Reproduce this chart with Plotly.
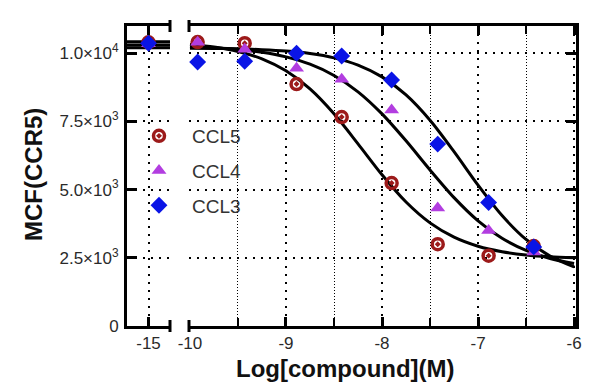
import plotly.graph_objects as go

# ---------------- data ----------------
series_names = ["CCL5", "CCL4", "CCL3"]
control_x = [-15]
control_ccl5 = [10400]
control_ccl4 = [10350]
control_ccl3 = [10370]

log_conc = [-9.92, -9.43, -8.89, -8.42, -7.90, -7.42, -6.89, -6.42]
ccl5_mcf = [10410, 10370, 8870, 7660, 5240, 3000, 2580, 2930]
ccl4_mcf = [10400, 10150, 9450, 9050, 7920, 4330, 3500, 2710]
ccl3_mcf = [9680, 9710, 10000, 9900, 9020, 6670, 4530, 2900]

# fitted curves at every quarter log unit
fit_x = [-10.0, -9.75, -9.5, -9.25, -9.0, -8.75, -8.5, -8.25, -8.0,
         -7.75, -7.5, -7.25, -7.0, -6.75, -6.5, -6.25, -6.0]
ccl5_fit = [10325, 10231, 10068, 9795, 9356, 8691, 7779, 6680, 5545,
            4545, 3781, 3257, 2925, 2724, 2606, 2539, 2500]
ccl4_fit = [10243, 10205, 10141, 10037, 9868, 9599, 9187, 8587, 7778,
            6790, 5722, 4708, 3858, 3217, 2771, 2477, 2291]
ccl3_fit = [10188, 10178, 10162, 10132, 10080, 9989, 9832, 9567, 9135,
            8473, 7545, 6393, 5164, 4049, 3173, 2562, 2168]
# plateau of the fits drawn across the control segment
plateau_x = [-15.6, -14.4]
ccl5_top = [10420, 10420]
ccl4_top = [10300, 10300]
ccl3_top = [10200, 10200]

y_ticks = [0, 2500, 5000, 7500, 10000]
y_ticktext = ["0", "2.5×10<sup>3</sup>", "5.0×10<sup>3</sup>", "7.5×10<sup>3</sup>", "1.0×10<sup>4</sup>"]
x_ticks_main = [-10, -9, -8, -7, -6]
x_ticks_half = [-9.5, -8.5, -7.5, -6.5]

# ---------------- styles ----------------
colors = {"CCL5": "#9c1a1a", "CCL4": "#b23de0", "CCL3": "#0a14e6"}
symbols = {"CCL5": "circle-open-dot", "CCL4": "triangle-up", "CCL3": "diamond"}
font_family = "Liberation Sans, Arial, sans-serif"

fig = go.Figure()

fits = [(ccl5_fit, ccl5_top), (ccl4_fit, ccl4_top), (ccl3_fit, ccl3_top)]
for fy, top in fits:
    fig.add_trace(go.Scatter(x=fit_x, y=fy, mode="lines", xaxis="x2", yaxis="y2",
                             line=dict(color="black", width=3, shape="spline", smoothing=0.8),
                             showlegend=False, hoverinfo="skip"))
    fig.add_trace(go.Scatter(x=plateau_x, y=top, mode="lines", xaxis="x", yaxis="y",
                             line=dict(color="black", width=3),
                             showlegend=False, hoverinfo="skip"))

data = [("CCL5", control_ccl5, ccl5_mcf), ("CCL4", control_ccl4, ccl4_mcf), ("CCL3", control_ccl3, ccl3_mcf)]
for name, ctrl, vals in data:
    if name == "CCL5":
        mk = dict(symbol=symbols[name], size=11, color=colors[name], line=dict(color=colors[name], width=3.5))
    else:
        mk = dict(symbol=symbols[name], size=13, color=colors[name], line=dict(width=0))
    fig.add_trace(go.Scatter(x=control_x, y=ctrl, mode="markers", xaxis="x", yaxis="y",
                             marker=mk, showlegend=False, legendgroup=name))
    fig.add_trace(go.Scatter(x=log_conc, y=vals, mode="markers", xaxis="x2", yaxis="y2",
                             marker=mk, name=name, legendgroup=name, showlegend=True))

grid_major = dict(showgrid=True, gridcolor="black", gridwidth=2, griddash="2px,6px")

left_w = 43 / 449
right_start = 62 / 449

fig.update_layout(
    template="none",
    width=592, height=382,
    margin=dict(l=119, r=24, t=18, b=64, autoexpand=False),
    paper_bgcolor="white", plot_bgcolor="white",
    font=dict(family=font_family, color="#2a2a2a", size=17),
    xaxis=dict(domain=[0, left_w], range=[-15.49, -14.51], anchor="y",
               tickvals=control_x, ticktext=["-15"], ticks="inside", ticklen=9, tickwidth=2.5,
               tickcolor="black", showline=True, linecolor="black", linewidth=3, mirror="allticks",
               zeroline=False, automargin=False, ticklabelstandoff=0, **grid_major),
    xaxis2=dict(domain=[right_start, 1], range=[-10.01, -5.98], anchor="y2",
                tickvals=x_ticks_main, ticktext=[str(v) for v in x_ticks_main],
                ticks="inside", ticklen=9, tickwidth=2.5, tickcolor="black",
                showline=True, linecolor="black", linewidth=3, mirror="allticks",
                zeroline=False, automargin=False, ticklabelstandoff=0, **grid_major,
                minor=dict(tickvals=x_ticks_half, ticks="inside", ticklen=8, tickwidth=1.5,
                           tickcolor="black", showgrid=True, gridcolor="black", gridwidth=1,
                           griddash="1px,2px")),
    yaxis=dict(domain=[0, 1], range=[0, 11000], anchor="x",
               tickvals=y_ticks, ticktext=y_ticktext, ticks="inside", ticklen=10, tickwidth=3,
               tickcolor="black", showline=True, linecolor="black", linewidth=3,
               zeroline=False, automargin=False, ticklabelstandoff=2, **grid_major),
    yaxis2=dict(domain=[0, 1], range=[0, 11000], anchor="x2", matches="y", side="right",
                tickvals=y_ticks, ticks="inside", ticklen=10, tickwidth=3, tickcolor="black",
                showticklabels=False, showline=True, linecolor="black", linewidth=3,
                zeroline=False, automargin=False, **grid_major),
    legend=dict(x=-1 / 449, y=1 - 91 / 300, xanchor="left", yanchor="top",
                bgcolor="rgba(0,0,0,0)", font=dict(size=19, color="#333333", family=font_family),
                traceorder="grouped", tracegroupgap=7, itemwidth=56),
    showlegend=True,
)

# broken-axis marks
for xref, xpos in [("x domain", 1), ("x2 domain", 0)]:
    for y0, y1 in [(-0.02, 0.02), (0.98, 1.02)]:
        fig.add_shape(type="line", xref=xref, yref="paper", x0=xpos, x1=xpos, y0=y0, y1=y1,
                      line=dict(color="black", width=3))

# axis titles
fig.add_annotation(text="<b>MCF(CCR5)</b>", xref="paper", yref="paper",
                   x=(33 - 127) / 449, y=(326 - 175) / 300, textangle=-90, showarrow=False,
                   xanchor="center", yanchor="middle", font=dict(size=24, color="#111111"))
fig.add_annotation(text="<b>Log[compound](M)</b>", xref="paper", yref="paper",
                   x=(345 - 127) / 449, y=(326 - 368) / 300, showarrow=False,
                   xanchor="center", yanchor="middle", font=dict(size=24, color="#111111"))

fig.write_html("out.html")
